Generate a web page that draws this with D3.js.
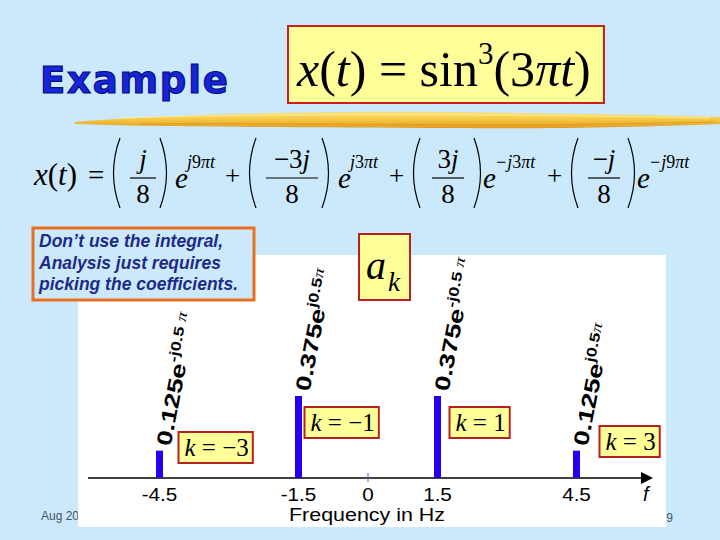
<!DOCTYPE html>
<html>
  <head>
    <title>sin cubed example</title>
    <meta http-equiv="Content-Type" content="text/html; charset=UTF-8">
    <script src="https://d3js.org/d3.v7.min.js"></script>
    <style>
      body { margin: 0; background: #cce9fc; }
    </style>
  </head>

  <body>
    <div id="chart"></div>

    <script>
      // spectrum lines
      var freqs = [-4.5, -1.5, 1.5, 4.5];
      var mags = [0.125, 0.375, 0.375, 0.125];
      var coefMain = ["0.125e", "0.375e", "0.375e", "0.125e"];
      var coefExp = ["-j0.5 ", "j0.5", "-j0.5 ", "j0.5"];
      var kLabels = ["k = \u22123", "k = \u22121", "k = 1", "k = 3"];
      var tickVals = [-4.5, -1.5, 0, 1.5, 4.5];
      var tickLabels = ["-4.5", "-1.5", "0", "1.5", "4.5"];

      // where the k boxes sit next to each line (layout only)
      var kBoxDx = [19, 6, 12, 23];
      var kBoxTop = [432, 407, 407, 426];

      var sans = "'Liberation Sans', Arial, sans-serif";
      var serif = "'Liberation Serif', 'Times New Roman', serif";

      var svg = d3.select("#chart").append("svg").attr("width", 720).attr("height", 540);
      svg.append("rect").attr("width", 720).attr("height", 540).attr("fill", "#cce9fc");

      // footer, partly hidden by the white panel
      svg.append("text").attr("x", 41).attr("y", 520).attr("font-family", sans)
        .attr("font-size", 12).attr("fill", "#445566").text("Aug 2003, \u00a92003, JH McClellan & RW Schafer");
      svg.append("text").attr("x", 673).attr("y", 522).attr("text-anchor", "end").attr("font-family", sans)
        .attr("font-size", 12).attr("fill", "#445566").text("9");

      svg.append("rect").attr("x", 78).attr("y", 255).attr("width", 588).attr("height", 272).attr("fill", "#fff");

      // title
      svg.append("text").attr("x", 40).attr("y", 93).attr("font-family", "'DejaVu Sans', sans-serif")
        .attr("font-weight", "bold").attr("font-size", 37).attr("letter-spacing", 1.8)
        .attr("fill", "#1426d8").attr("stroke", "#0a0a80").attr("stroke-width", 1.2).text("Example");

      // formula box
      svg.append("rect").attr("x", 288).attr("y", 26).attr("width", 316).attr("height", 77)
        .attr("fill", "#ffff99").attr("stroke", "#cc2020").attr("stroke-width", 2);
      var f = svg.append("text").attr("x", 297).attr("y", 86).attr("font-family", serif).attr("font-size", 50);
      f.append("tspan").attr("font-style", "italic").text("x");
      f.append("tspan").text("(");
      f.append("tspan").attr("font-style", "italic").text("t");
      f.append("tspan").text(") = sin");
      f.append("tspan").attr("font-size", 31).attr("dy", -22).text("3");
      f.append("tspan").attr("dy", 22).text("(3");
      f.append("tspan").attr("font-style", "italic").text("\u03c0t");
      f.append("tspan").text(")");

      // brush stroke
      var grad = svg.append("defs").append("linearGradient").attr("id", "brush")
        .attr("x1", 0).attr("y1", 0).attr("x2", 0).attr("y2", 1);
      grad.append("stop").attr("offset", "0%").attr("stop-color", "#fbe27a");
      grad.append("stop").attr("offset", "50%").attr("stop-color", "#f3c640");
      grad.append("stop").attr("offset", "100%").attr("stop-color", "#e39a22");
      svg.append("path").attr("fill", "url(#brush)")
        .attr("d", "M75,122 C150,115 300,111 450,112 C560,113 650,115 720,117 L720,124 C640,127 560,129 450,128 C300,127 150,127 75,124 Z");
      svg.append("path").attr("fill", "none").attr("stroke", "#fff3b0").attr("stroke-width", 1).attr("opacity", 0.7)
        .attr("d", "M120,118 C250,114 400,114 520,115 C600,116 660,117 710,118");
      svg.append("path").attr("fill", "none").attr("stroke", "#d98a1a").attr("stroke-width", 1).attr("opacity", 0.6)
        .attr("d", "M140,124 C260,123 400,125 540,125 C620,124 670,123 715,122");

      // expanded equation
      var eq = svg.append("g").attr("font-family", serif).attr("fill", "#000");
      function put(x, y, size, parts, anchor) {
        var t = eq.append("text").attr("x", x).attr("y", y).attr("font-size", size)
          .attr("text-anchor", anchor || "start");
        parts.forEach(function (p) {
          t.append("tspan").attr("font-style", p[1] ? "italic" : "normal").text(p[0]);
        });
      }
      function paren(x, left) {
        var d = left ? "M" + (x + 9) + ",138 Q" + (x - 4) + ",173 " + (x + 9) + ",208"
                     : "M" + x + ",138 Q" + (x + 13) + ",173 " + x + ",208";
        eq.append("path").attr("d", d).attr("fill", "none").attr("stroke", "#000").attr("stroke-width", 1.2);
      }
      function frac(cx, w, num) {
        put(cx, 168, 27, num, "middle");
        eq.append("line").attr("x1", cx - w / 2).attr("x2", cx + w / 2).attr("y1", 178).attr("y2", 178)
          .attr("stroke", "#000").attr("stroke-width", 1.2);
        put(cx, 203, 27, [["8", 0]], "middle");
      }
      put(34, 185, 31, [["x", 1], ["(", 0], ["t", 1], [")", 0]]);
      put(88, 185, 29, [["=", 0]]);
      var terms = [
        { l: 111, r: 160, c: 143, w: 26, num: [["j", 1]], e: 175, sup: [["j", 1], ["9", 0], ["\u03c0t", 1]] },
        { l: 247, r: 322, c: 292, w: 52, num: [["\u22123", 0], ["j", 1]], e: 338, sup: [["j", 1], ["3", 0], ["\u03c0t", 1]] },
        { l: 411, r: 474, c: 448, w: 32, num: [["3", 0], ["j", 1]], e: 483, sup: [["\u2212j", 1], ["3", 0], ["\u03c0t", 1]] },
        { l: 569, r: 628, c: 604, w: 32, num: [["\u2212", 0], ["j", 1]], e: 637, sup: [["\u2212j", 1], ["9", 0], ["\u03c0t", 1]] }
      ];
      terms.forEach(function (t, i) {
        paren(t.l, true);
        paren(t.r, false);
        frac(t.c, t.w, t.num);
        put(t.e, 188, 29, [["e", 1]]);
        put(t.e + 12, 168, 18, t.sup);
        if (i < 3) put(terms[i + 1].l - 22, 185, 27, [["+", 0]]);
      });

      // note box
      svg.append("rect").attr("x", 33).attr("y", 228).attr("width", 221).attr("height", 72)
        .attr("fill", "#cce9fc").attr("stroke", "#e8701c").attr("stroke-width", 3);
      ["Don\u2019t use the integral,", "Analysis just requires", "picking the coefficients."].forEach(function (s, i) {
        svg.append("text").attr("x", 39).attr("y", 247 + i * 21.5).attr("font-family", sans)
          .attr("font-weight", "bold").attr("font-style", "italic").attr("font-size", 17.5)
          .attr("fill", "#1f2a86").text(s);
      });

      // a_k box
      svg.append("rect").attr("x", 359).attr("y", 234).attr("width", 51).attr("height", 66)
        .attr("fill", "#ffff99").attr("stroke", "#b82020").attr("stroke-width", 2);
      svg.append("text").attr("x", 366).attr("y", 279).attr("font-family", serif).attr("font-style", "italic")
        .attr("font-size", 40).text("a");
      svg.append("text").attr("x", 388).attr("y", 291).attr("font-family", serif).attr("font-style", "italic")
        .attr("font-size", 27).text("k");

      // spectrum
      var x = d3.scaleLinear().domain([-4.5, 4.5]).range([159.5, 576.5]);
      var y = d3.scaleLinear().domain([0, 0.375]).range([478, 396]);

      svg.append("line").attr("x1", 88).attr("x2", 645).attr("y1", y(0)).attr("y2", y(0))
        .attr("stroke", "#000").attr("stroke-width", 1.5);
      svg.append("path").attr("d", "M641," + (y(0) - 6) + " L653," + y(0) + " L641," + (y(0) + 6) + " Z").attr("fill", "#000");
      svg.append("line").attr("x1", x(0)).attr("x2", x(0)).attr("y1", y(0) - 5).attr("y2", y(0) + 4)
        .attr("stroke", "#4466aa").attr("stroke-width", 1);

      svg.selectAll(".bar").data(freqs).enter().append("rect")
        .attr("x", function (d) { return x(d) - 3.5; })
        .attr("y", function (d, i) { return y(mags[i]); })
        .attr("width", 7)
        .attr("height", function (d, i) { return y(0) - y(mags[i]); })
        .attr("fill", "#2400ee");

      var labs = svg.selectAll(".coef").data(freqs).enter().append("text")
        .attr("transform", function (d, i) {
          return "translate(" + (x(d) + 11) + "," + (y(mags[i]) - 4) + ") rotate(-79) scale(1.3,1)";
        })
        .attr("font-family", sans).attr("font-weight", "bold").attr("font-size", 21).attr("fill", "#000");
      labs.append("tspan").text(function (d, i) { return coefMain[i]; });
      labs.append("tspan").attr("font-size", 14).attr("dy", -9).text(function (d, i) { return coefExp[i]; });
      labs.append("tspan").attr("font-family", serif).attr("font-style", "italic").attr("font-weight", "normal")
        .attr("font-size", 15).text("\u03c0");

      // k boxes
      freqs.forEach(function (d, i) {
        var g = svg.append("g");
        var t = g.append("text").attr("x", x(d) + kBoxDx[i] + 6).attr("y", kBoxTop[i] + 24)
          .attr("font-family", serif).attr("font-size", 25);
        var parts = kLabels[i].split(" ");
        t.append("tspan").attr("font-style", "italic").text(parts[0]);
        t.append("tspan").text(" " + parts.slice(1).join(" "));
        var bb = t.node().getBBox();
        g.insert("rect", "text").attr("x", x(d) + kBoxDx[i]).attr("y", kBoxTop[i])
          .attr("width", bb.width + 10).attr("height", 31)
          .attr("fill", "#ffff99").attr("stroke", "#b82020").attr("stroke-width", 2);
      });

      // tick labels
      svg.selectAll(".tick").data(tickVals).enter().append("text")
        .attr("transform", function (d) { return "translate(" + x(d) + ",501) scale(1.15,1)"; })
        .attr("text-anchor", "middle").attr("font-family", sans).attr("font-size", 18)
        .text(function (d, i) { return tickLabels[i]; });
      svg.append("text").attr("x", 643).attr("y", 501).attr("font-family", sans).attr("font-style", "italic")
        .attr("font-size", 20).text("f");
      svg.append("text").attr("x", 289).attr("y", 521).attr("font-family", sans).attr("font-size", 19)
        .attr("textLength", 156).attr("lengthAdjust", "spacingAndGlyphs").text("Frequency in Hz");
    </script>
  </body>
</html>
